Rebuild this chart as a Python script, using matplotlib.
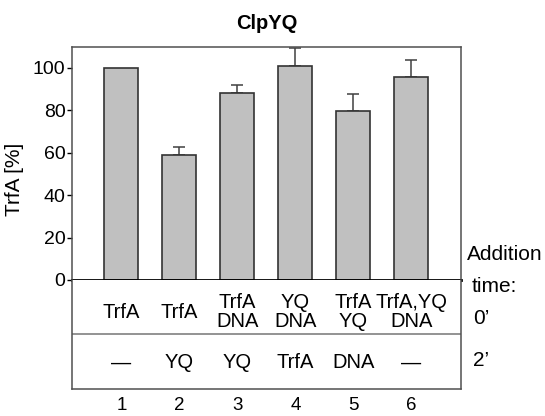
import numpy as np
import matplotlib
matplotlib.use("Agg")
import matplotlib.pyplot as plt

plt.rcParams['font.family'] = ['Liberation Sans', 'DejaVu Sans']

lanes = [1, 2, 3, 4, 5, 6]
values = [100, 59.0, 88.2, 100.9, 79.6, 95.5]
errors = [0, 3.6, 3.6, 8.7, 8.0, 8.0]
row_0 = ["TrfA", "TrfA", "TrfA\nDNA", "YQ\nDNA", "TrfA\nYQ", "TrfA,YQ\nDNA"]
row_2 = ["\u2014", "YQ", "YQ", "TrfA", "DNA", "\u2014"]
yticks = [0, 20, 40, 60, 80, 100]

W, H = 545, 416
fig = plt.figure(figsize=(W / 100, H / 100), dpi=100)
L, R = 72, 461
ax = fig.add_axes([L / W, 1 - 280 / H, (R - L) / W, (280 - 46.7) / H])
tab = fig.add_axes([L / W, 1 - 389 / H, (R - L) / W, (389 - 280) / H])
xlim = (0.15, 6.855)

box = "#505050"
ax.bar(lanes, values, width=0.586, color="#c0c0c0", edgecolor="#333333", linewidth=1.2, zorder=2)
ax.errorbar(lanes[1:], values[1:], yerr=[np.zeros(5), errors[1:]], fmt="none",
            ecolor="#404040", elinewidth=1.1, capsize=4.5, capthick=1.1, zorder=1)
ax.set_xlim(*xlim)
ax.set_ylim(0, 110)
ax.set_yticks(yticks)
ax.tick_params(axis="y", labelsize=14, length=3.6, width=1, direction="out", pad=1)
ax.set_xticks([])
for s in ["top", "right", "left"]:
    ax.spines[s].set_color(box)
    ax.spines[s].set_linewidth(1.1)
ax.spines["bottom"].set_color("black")
ax.spines["bottom"].set_linewidth(2)
ax.set_ylabel("TrfA [%]", fontsize=15)
ax.yaxis.set_label_coords(-0.123, 0.433)
ax.set_title("ClpYQ", fontsize=14.5, fontweight="bold", pad=0, y=1 + (46.7 - 23.6) / (280 - 46.7), va="center")

tab.set_xlim(*xlim)
tab.set_ylim(389, 280)
tab.set_xticks([])
tab.set_yticks([])
tab.spines["top"].set_visible(False)
for s in ["bottom", "right", "left"]:
    tab.spines[s].set_color(box)
    tab.spines[s].set_linewidth(1.1)
tab.axhline(334, color="#808080", linewidth=1.2)
for x, a, b in zip(lanes, row_0, row_2):
    tab.text(x, 312, a, ha="center", va="center", fontsize=14.5, linespacing=1.05)
    tab.text(x, 363, b, ha="center", va="center", fontsize=14.5)
    tab.text(x, 405, str(x), ha="center", va="center", fontsize=13.5, clip_on=False)

fig.text(466.7 / W, 1 - 255 / H, "Addition", ha="left", va="center", fontsize=15)
fig.text(472 / W, 1 - 287 / H, "time:", ha="left", va="center", fontsize=15)
fig.text(473 / W, 1 - 319 / H, "0\u2019", ha="left", va="center", fontsize=15)
fig.text(473 / W, 1 - 361 / H, "2\u2019", ha="left", va="center", fontsize=15)

fig.savefig("out.png", dpi=100)
